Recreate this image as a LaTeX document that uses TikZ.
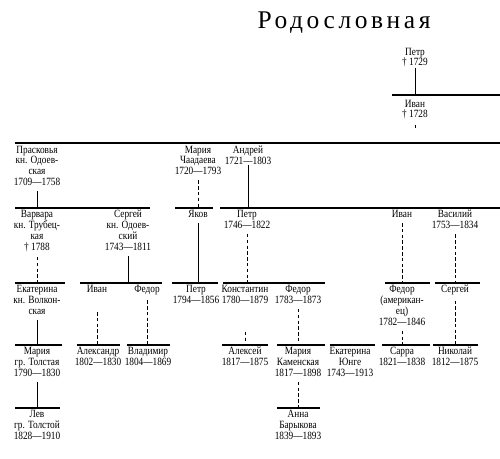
\documentclass[tikz,border=0pt]{standalone}
\usepackage{fontspec}
\setmainfont[FakeStretch=0.84]{Liberation Serif}
\newfontfamily\titlefont[LetterSpace=14]{Liberation Serif}
\begin{document}
\begin{tikzpicture}[x=0.02cm, y=-0.02cm,
    person/.style={anchor=north, align=center, inner sep=0pt, font=\fontsize{6.3}{6.2}\selectfont},
    bar/.style={line width=0.8pt},
    tie/.style={line width=0.5pt},
    tiedash/.style={line width=0.45pt, dash pattern=on 2pt off 1.3pt}]

        \useasboundingbox (0,0) rectangle (500,459);

        % Title
        \node[anchor=base, font=\titlefont\fontsize{14.5}{16}\selectfont] (title) at (344,29) {Родословная};

        % Sibling bars
        \draw[bar] (392,95) coordinate (b0) -- (500,95);
        \draw[bar] (15,143) coordinate (b1) -- (500,143);
        \draw[bar] (15,208) coordinate (b2a) -- (150,208);
        \draw[bar] (175,208) coordinate (b2b) -- (213,208);
        \draw[bar] (220,208) coordinate (b2c) -- (500,208);
        \draw[bar] (15,283) coordinate (b3a) -- (65,283);
        \draw[bar] (80,283) coordinate (b3b) -- (162,283);
        \draw[bar] (172,283) coordinate (b3c) -- (218,283);
        \draw[bar] (223,283) coordinate (b3d) -- (325,283);
        \draw[bar] (385,283) coordinate (b3e) -- (430,283);
        \draw[bar] (435,283) coordinate (b3f) -- (480,283);
        \draw[bar] (15,345) coordinate (b4a) -- (62,345);
        \draw[bar] (77,345) coordinate (b4b) -- (120,345);
        \draw[bar] (127,345) coordinate (b4c) -- (170,345);
        \draw[bar] (222,345) coordinate (b4d) -- (268,345);
        \draw[bar] (277,345) coordinate (b4e) -- (325,345);
        \draw[bar] (330,345) coordinate (b4f) -- (375,345);
        \draw[bar] (382,345) coordinate (b4g) -- (430,345);
        \draw[bar] (433,345) coordinate (b4h) -- (478,345);
        \draw[bar] (15,408) coordinate (b5a) -- (60,408);
        \draw[bar] (277,408) coordinate (b5b) -- (320,408);

        % Generation 0
        \node[person] (petr0) at (415,47.5) {Петр\\† 1729};
        \node[person] (ivan0) at (415,99.5) {Иван\\† 1728};

        % Generation 1
        \node[person] (praskovya) at (37,145.5) {Прасковья\\кн. Одоев-\\ская\\1709—1758};
        \node[person] (mariach) at (198,145.5) {Мария\\Чаадаева\\1720—1793};
        \node[person] (andrei) at (248,145.5) {Андрей\\1721—1803};

        % Generation 2
        \node[person] (varvara) at (37,210) {Варвара\\кн. Трубец-\\кая\\† 1788};
        \node[person] (sergei) at (128,210) {Сергей\\кн. Одоев-\\ский\\1743—1811};
        \node[person] (yakov) at (198,210) {Яков};
        \node[person] (petr) at (247,210) {Петр\\1746—1822};
        \node[person] (ivan) at (402,210) {Иван};
        \node[person] (vasily) at (455,210) {Василий\\1753—1834};

        % Generation 3
        \node[person] (ekaterinav) at (37,285) {Екатерина\\кн. Волкон-\\ская};
        \node[person] (ivanod) at (97,285) {Иван};
        \node[person] (fedorod) at (147,285) {Федор};
        \node[person] (petrya) at (196,285) {Петр\\1794—1856};
        \node[person] (konst) at (245,285) {Константин\\1780—1879};
        \node[person] (fedorpe) at (298,285) {Федор\\1783—1873};
        \node[person] (fedoram) at (402,285) {Федор\\(американ-\\ец)\\1782—1846};
        \node[person] (sergeiva) at (455,285) {Сергей};

        % Generation 4
        \node[person] (mariat) at (37,347) {Мария\\гр. Толстая\\1790—1830};
        \node[person] (aleksandr) at (98,347) {Александр\\1802—1830};
        \node[person] (vladimir) at (148,347) {Владимир\\1804—1869};
        \node[person] (aleksei) at (245,347) {Алексей\\1817—1875};
        \node[person] (mariak) at (298,347) {Мария\\Каменская\\1817—1898};
        \node[person] (ekaterinayu) at (350,347) {Екатерина\\Юнге\\1743—1913};
        \node[person] (sarra) at (402,347) {Сарра\\1821—1838};
        \node[person] (nikolai) at (455,347) {Николай\\1812—1875};

        % Generation 5
        \node[person] (lev) at (37,410) {Лев\\гр. Толстой\\1828—1910};
        \node[person] (anna) at (298,410) {Анна\\Барыкова\\1839—1893};

        % Descent lines
        \draw[tie] (petr0.south) -- (petr0.south |- b0);
        \draw[tie, shorten <=1mm, shorten >=3mm] (ivan0.south) -- (ivan0.south |- b1);
        \draw[tie, shorten <=1mm] (praskovya.south) -- (praskovya.south |- b2a);
        \draw[tiedash, shorten <=1mm] (mariach.south) -- (mariach.south |- b2b);
        \draw[tie] (andrei.south) -- (andrei.south |- b2c);
        \draw[tiedash, shorten <=1mm] (varvara.south) -- (varvara.south |- b3a);
        \draw[tie, shorten <=1mm] (sergei.south) -- (sergei.south |- b3b);
        \draw[tie, shorten <=1mm] (yakov.south) -- (yakov.south |- b3c);
        \draw[tiedash, shorten <=1mm] (petr.south) -- (petr.south |- b3d);
        \draw[tiedash, shorten <=1mm] (ivan.south) -- (ivan.south |- b3e);
        \draw[tiedash, shorten <=1mm] (vasily.south) -- (vasily.south |- b3f);
        \draw[tie, shorten <=1mm] (ekaterinav.south) -- (ekaterinav.south |- b4a);
        \draw[tiedash, shorten <=3.8mm] (ivanod.south) -- (ivanod.south |- b4b);
        \draw[tiedash, shorten <=1mm] (fedorod.south) -- (fedorod.south |- b4c);
        \draw[tiedash, shorten <=5.6mm] (konst.south) -- (konst.south |- b4d);
        \draw[tiedash, shorten <=1mm] (fedorpe.south) -- (fedorpe.south |- b4e);
        \draw[tiedash, shorten <=1mm] (fedoram.south) -- (fedoram.south |- b4g);
        \draw[tiedash, shorten <=1mm] (sergeiva.south) -- (sergeiva.south |- b4h);
        \draw[tie, shorten <=1mm] (mariat.south) -- (mariat.south |- b5a);
        \draw[tiedash, shorten <=1mm] (mariak.south) -- (mariak.south |- b5b);

    \end{tikzpicture}
\end{document}
